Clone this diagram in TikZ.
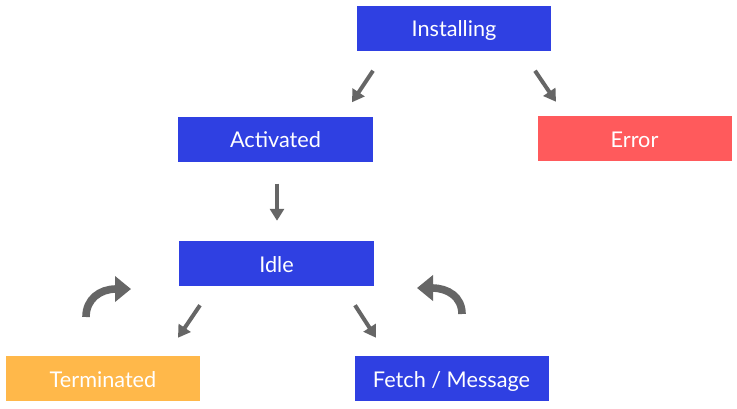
\documentclass[tikz,border=0pt]{standalone}
\usepackage{fontspec}
\setmainfont{Lato}
\usepackage{tikz}
\usetikzlibrary{arrows.meta, positioning}

\definecolor{stateblue}{HTML}{2F40E2}
\definecolor{errorred}{HTML}{FF5A5C}
\definecolor{termorange}{HTML}{FFB84A}
\definecolor{arrowgray}{HTML}{666666}

\begin{document}
\begin{tikzpicture}[
  x=0.03cm,
  y=-0.03cm,
  line cap=butt,
  line join=miter,
  state/.style={
    fill=stateblue,
    minimum width=5.82cm,
    minimum height=1.35cm,
    inner sep=0pt,
    text height=0.62cm,
    text depth=0.1cm,
    text=white,
    font=\fontsize{18.5}{21}\selectfont
  },
  error/.style={
    state,
    fill=errorred
  },
  stopped/.style={
    state,
    fill=termorange
  },
  arrow/.style={
    -{Triangle[length=0.36cm,width=0.42cm]},
    line width=3.4pt,
    draw=arrowgray
  },
  loop/.style={
    -{Triangle[length=0.48cm,width=0.75cm]},
    line width=6.5pt,
    draw=arrowgray
  }
]
\useasboundingbox (0,0) rectangle (737,408);

% ------------------------------------------------
% States
% ------------------------------------------------
\node[state] (installing) at (454,28) {Installing};

\node[state] (activated) at (275.5,139) {Activated};

\node[error] (error) at (634.5,138.5) {Error};

\node[state] (idle) at (276.5,263.5) {Idle};

\node[stopped] (terminated) at (103,378.5) {Terminated};

\node[state] (fetch) at (451.5,378.5) {Fetch / Message};

% ------------------------------------------------
% Transitions
% ------------------------------------------------
\draw[arrow] ([shift={(-81,20)}]installing.south)
  -- ([shift={(76.5,-14)}]activated.north);
\draw[arrow] ([shift={(81,20)}]installing.south)
  -- ([shift={(-78.5,-14)}]error.north);

\draw[arrow] ([shift={(1.5,22)}]activated.south)
  -- ([shift={(0.5,-20)}]idle.north);

\draw[arrow] ([shift={(-76.5,19)}]idle.south)
  -- ([shift={(75,-18)}]terminated.north);
\draw[arrow] ([shift={(78.5,19)}]idle.south)
  -- ([shift={(-75.5,-18)}]fetch.north);

% Loops beside Idle.
\draw[loop] (86,317) .. controls (86,299) and (100,289) .. (131,289);
\draw[loop] (462,314) .. controls (462,297) and (448,288) .. (417,288);

\end{tikzpicture}
\end{document}
